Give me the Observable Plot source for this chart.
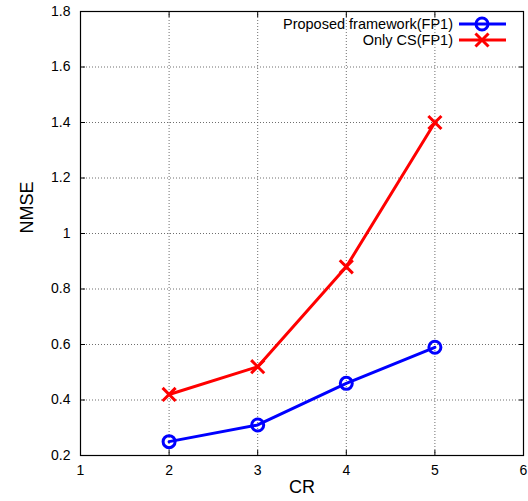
<!DOCTYPE html>
<html>
<head>
<meta charset="utf-8">
<script src="https://cdn.jsdelivr.net/npm/d3@7"></script>
<script src="https://cdn.jsdelivr.net/npm/@observablehq/plot@0.6"></script>
<style>
  body { margin: 0; background: #fff; }
  #wrap { position: relative; width: 528px; height: 501px; }
  #legend { position: absolute; left: 0; top: 0; }
</style>
</head>
<body>
<div id="wrap"></div>
<script>
const cr = [2, 3, 4, 5];
const proposed = [0.25, 0.31, 0.46, 0.59];
const onlyCS = [0.42, 0.52, 0.88, 1.40];
const xTicks = [1, 2, 3, 4, 5, 6];
const yTicks = [0.2, 0.4, 0.6, 0.8, 1.0, 1.2, 1.4, 1.6, 1.8];
const seriesNames = ["Proposed framework(FP1)", "Only CS(FP1)"];
const xLabel = "CR";
const yLabel = "NMSE";

const dataP = cr.map((x, i) => ({x, y: proposed[i]}));
const dataC = cr.map((x, i) => ({x, y: onlyCS[i]}));
const fmt = d => (Math.round(d * 10) / 10).toString();

const gridStyle = {stroke: "#555", strokeOpacity: 0.85, strokeDasharray: "1,2"};
const font = "'Liberation Sans', Arial, sans-serif";

const chart = Plot.plot({
  width: 528,
  height: 501,
  marginLeft: 80,
  marginRight: 5,
  marginTop: 11,
  marginBottom: 46,
  x: {domain: [1, 6]},
  y: {domain: [0.2, 1.8]},
  style: {fontFamily: font, fontSize: "14px", color: "#000", background: "#fff"},
  marks: [
    Plot.gridX(xTicks.slice(1, -1), gridStyle),
    Plot.gridY(yTicks.slice(1, -1), gridStyle),
    Plot.frame({stroke: "#000", strokeWidth: 1.2}),
    Plot.axisX(xTicks, {anchor: "bottom", tickSize: -5, tickPadding: 15, fontSize: 14, label: null, tickFormat: d => String(d)}),
    Plot.axisX(xTicks, {anchor: "top", tickSize: -5, label: null, tickFormat: () => ""}),
    Plot.axisY(yTicks, {anchor: "left", tickSize: -5, tickPadding: 15, fontSize: 14, label: null, tickFormat: fmt}),
    Plot.axisY(yTicks, {anchor: "right", tickSize: -5, label: null, tickFormat: () => ""}),
    Plot.line(dataP, {x: "x", y: "y", stroke: "#0000ff", strokeWidth: 3}),
    Plot.line(dataC, {x: "x", y: "y", stroke: "#ff0000", strokeWidth: 3}),
    Plot.dot(dataP, {x: "x", y: "y", r: 6, stroke: "#0000ff", strokeWidth: 3, fill: "none"}),
    Plot.dot(dataC, {x: "x", y: "y", r: 6, symbol: "times", stroke: "#ff0000", strokeWidth: 3}),
    Plot.text([xLabel], {frameAnchor: "bottom", dy: 37, fontSize: 18, text: d => d}),
    Plot.text([yLabel], {frameAnchor: "left", dx: -53, rotate: -90, fontSize: 18, text: d => d})
  ]
});
const wrap = document.getElementById("wrap");
wrap.appendChild(chart);

// Legend overlay (inside plot area, top-right)
const leg = d3.select(wrap).append("svg").attr("id", "legend")
  .attr("width", 528).attr("height", 60)
  .style("font-family", font).style("font-size", "14.5px");
const rows = [
  {name: seriesNames[0], color: "#0000ff", sym: "circle", y: 24},
  {name: seriesNames[1], color: "#ff0000", sym: "times", y: 40}
];
rows.forEach(r => {
  leg.append("text").attr("x", 453).attr("y", r.y).attr("dy", "0.35em").attr("text-anchor", "end").attr("fill", "#000").text(r.name);
  leg.append("line").attr("x1", 459).attr("x2", 506).attr("y1", r.y).attr("y2", r.y).attr("stroke", r.color).attr("stroke-width", 3);
  if (r.sym === "circle") {
    leg.append("circle").attr("cx", 482).attr("cy", r.y).attr("r", 6).attr("fill", "none").attr("stroke", r.color).attr("stroke-width", 3);
  } else {
    leg.append("path").attr("transform", `translate(482,${r.y})`)
      .attr("d", d3.symbol(d3.symbolTimes, 6 * 6 * Math.PI)()).attr("fill", "none").attr("stroke", r.color).attr("stroke-width", 3);
  }
});
</script>
</body>
</html>
